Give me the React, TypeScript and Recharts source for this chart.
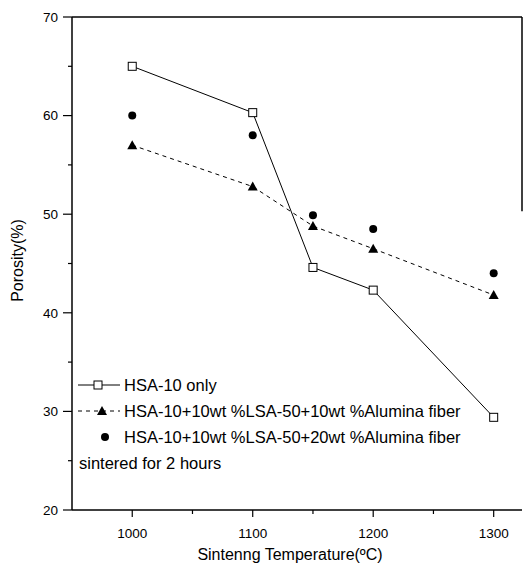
import React from 'react';
import { ComposedChart, Line, XAxis, YAxis, ReferenceLine, Legend, Label } from 'recharts';

const temperatures = [1000, 1100, 1150, 1200, 1300];
const hsa10Only = [65.0, 60.3, 44.6, 42.3, 29.4];
const alumina10 = [57.0, 52.8, 48.8, 46.5, 41.8];
const alumina20 = [60.0, 58.0, 49.9, 48.5, 44.0];
const xTicks = [1000, 1050, 1100, 1150, 1200, 1250, 1300];
const xMajor = [1000, 1100, 1200, 1300];
const yTicks = [20, 25, 30, 35, 40, 45, 50, 55, 60, 65, 70];
const seriesNames = [
  'HSA-10 only',
  'HSA-10+10wt %LSA-50+10wt %Alumina fiber',
  'HSA-10+10wt %LSA-50+20wt %Alumina fiber',
];
const noteText = 'sintered for 2 hours';
const xTitle = 'Sintenng Temperature(ºC)';
const yTitle = 'Porosity(%)';

const data = temperatures.map((t, i) => ({
  t,
  a: hsa10Only[i],
  b: alumina10[i],
  c: alumina20[i],
}));

const FONT = "Arial, 'Liberation Sans', sans-serif";
const X_MIN = 950;
const X_MAX = 1323.5;

const SquareDot = (props: any) => {
  const { cx, cy, index } = props;
  if (cx == null || cy == null) return null;
  return <rect key={`sq${index}`} x={cx - 4} y={cy - 4} width={8} height={8} fill="#fff" stroke="#000" strokeWidth={1} />;
};
const TriDot = (props: any) => {
  const { cx, cy, index } = props;
  if (cx == null || cy == null) return null;
  return <polygon key={`tr${index}`} points={`${cx},${cy - 5} ${cx + 5},${cy + 4} ${cx - 5},${cy + 4}`} fill="#000" />;
};
const CircDot = (props: any) => {
  const { cx, cy, index } = props;
  if (cx == null || cy == null) return null;
  return <circle key={`ci${index}`} cx={cx} cy={cy} r={4} fill="#000" />;
};

const XTick = (props: any) => {
  const { x, y, payload } = props;
  const major = xMajor.includes(payload.value);
  return (
    <g>
      <line x1={x} x2={x} y1={y} y2={y + (major ? 7 : 4)} stroke="#000" strokeWidth={1.2} />
      {major && (
        <text x={x} y={y + 28} textAnchor="middle" fontSize={13.5} fontFamily={FONT} fill="#000">
          {payload.value}
        </text>
      )}
    </g>
  );
};

const YTick = (props: any) => {
  const { x, y, payload } = props;
  const major = payload.value % 10 === 0;
  return (
    <g>
      <line x1={x - (major ? 9 : 4)} x2={x} y1={y} y2={y} stroke="#000" strokeWidth={1.2} />
      {major && (
        <text x={x - 14} y={y} dy="0.35em" textAnchor="end" fontSize={13.5} fontFamily={FONT} fill="#000">
          {payload.value}
        </text>
      )}
    </g>
  );
};

const ROW_H = 26;

const LegendContent = () => {
  const rowStyle: React.CSSProperties = { display: 'flex', alignItems: 'center', height: ROW_H, whiteSpace: 'nowrap' };
  const textStyle: React.CSSProperties = { fontSize: 16.5, fontFamily: FONT, color: '#000', marginLeft: 4 };
  return (
    <div style={{ lineHeight: `${ROW_H}px` }}>
      <div style={rowStyle}>
        <svg width={42} height={12}>
          <line x1={0} x2={42} y1={6} y2={6} stroke="#000" strokeWidth={1} />
          <rect x={16} y={2} width={8} height={8} fill="#fff" stroke="#000" />
        </svg>
        <span style={textStyle}>{seriesNames[0]}</span>
      </div>
      <div style={rowStyle}>
        <svg width={42} height={12}>
          <line x1={0} x2={42} y1={6} y2={6} stroke="#000" strokeWidth={1} strokeDasharray="4 4" />
          <polygon points="24,1 29,10 19,10" fill="#000" />
        </svg>
        <span style={textStyle}>{seriesNames[1]}</span>
      </div>
      <div style={rowStyle}>
        <svg width={42} height={12}>
          <circle cx={27} cy={6} r={4} fill="#000" />
        </svg>
        <span style={textStyle}>{seriesNames[2]}</span>
      </div>
      <div style={rowStyle}>
        <span style={{ ...textStyle, marginLeft: 1 }}>{noteText}</span>
      </div>
    </div>
  );
};

export default function App() {
  return (
    <div style={{ position: 'absolute', left: 0, top: 0, width: 523, height: 570, background: '#fff', overflow: 'hidden' }}>
      <ComposedChart width={523} height={570} data={data} margin={{ top: 17, right: 1, left: 0, bottom: 0 }}>
        <XAxis
          dataKey="t"
          type="number"
          domain={[X_MIN, X_MAX]}
          ticks={xTicks}
          interval={0}
          allowDataOverflow
          height={60}
          tickSize={0}
          tickMargin={0}
          tickLine={false}
          tick={<XTick />}
          axisLine={{ stroke: '#000', strokeWidth: 1.5 }}
        >
          <Label
            value={xTitle}
            position="insideBottom"
            offset={10}
            dx={-7}
            style={{ fontSize: 16, fontFamily: FONT, fill: '#000' }}
          />
        </XAxis>
        <YAxis
          type="number"
          domain={[20, 70]}
          ticks={yTicks}
          interval={0}
          allowDataOverflow
          width={72}
          tickSize={0}
          tickMargin={0}
          tickLine={false}
          tick={<YTick />}
          axisLine={{ stroke: '#000', strokeWidth: 1.5 }}
        >
          <Label
            value={yTitle}
            angle={-90}
            position="insideLeft"
            offset={17}
            dy={-3}
            style={{ fontSize: 16, fontFamily: FONT, fill: '#000', textAnchor: 'middle' }}
          />
        </YAxis>
        <ReferenceLine y={70} stroke="#000" strokeWidth={1.5} />
        <ReferenceLine
          segment={[
            { x: X_MAX, y: 70 },
            { x: X_MAX, y: 50.3 },
          ]}
          stroke="#000"
          strokeWidth={1.5}
          ifOverflow="visible"
        />
        <Line
          dataKey="a"
          stroke="#000"
          strokeWidth={1}
          dot={SquareDot}
          activeDot={false}
          isAnimationActive={false}
        />
        <Line
          dataKey="b"
          stroke="#000"
          strokeWidth={1}
          strokeDasharray="4 4"
          dot={TriDot}
          activeDot={false}
          isAnimationActive={false}
        />
        <Line
          dataKey="c"
          stroke="none"
          dot={CircDot}
          activeDot={false}
          isAnimationActive={false}
        />
        <Legend
          layout="vertical"
          align="center"
          verticalAlign="middle"
          wrapperStyle={{ left: 78, top: 372, width: 'auto', height: 'auto' }}
          content={<LegendContent />}
        />
      </ComposedChart>
    </div>
  );
}
